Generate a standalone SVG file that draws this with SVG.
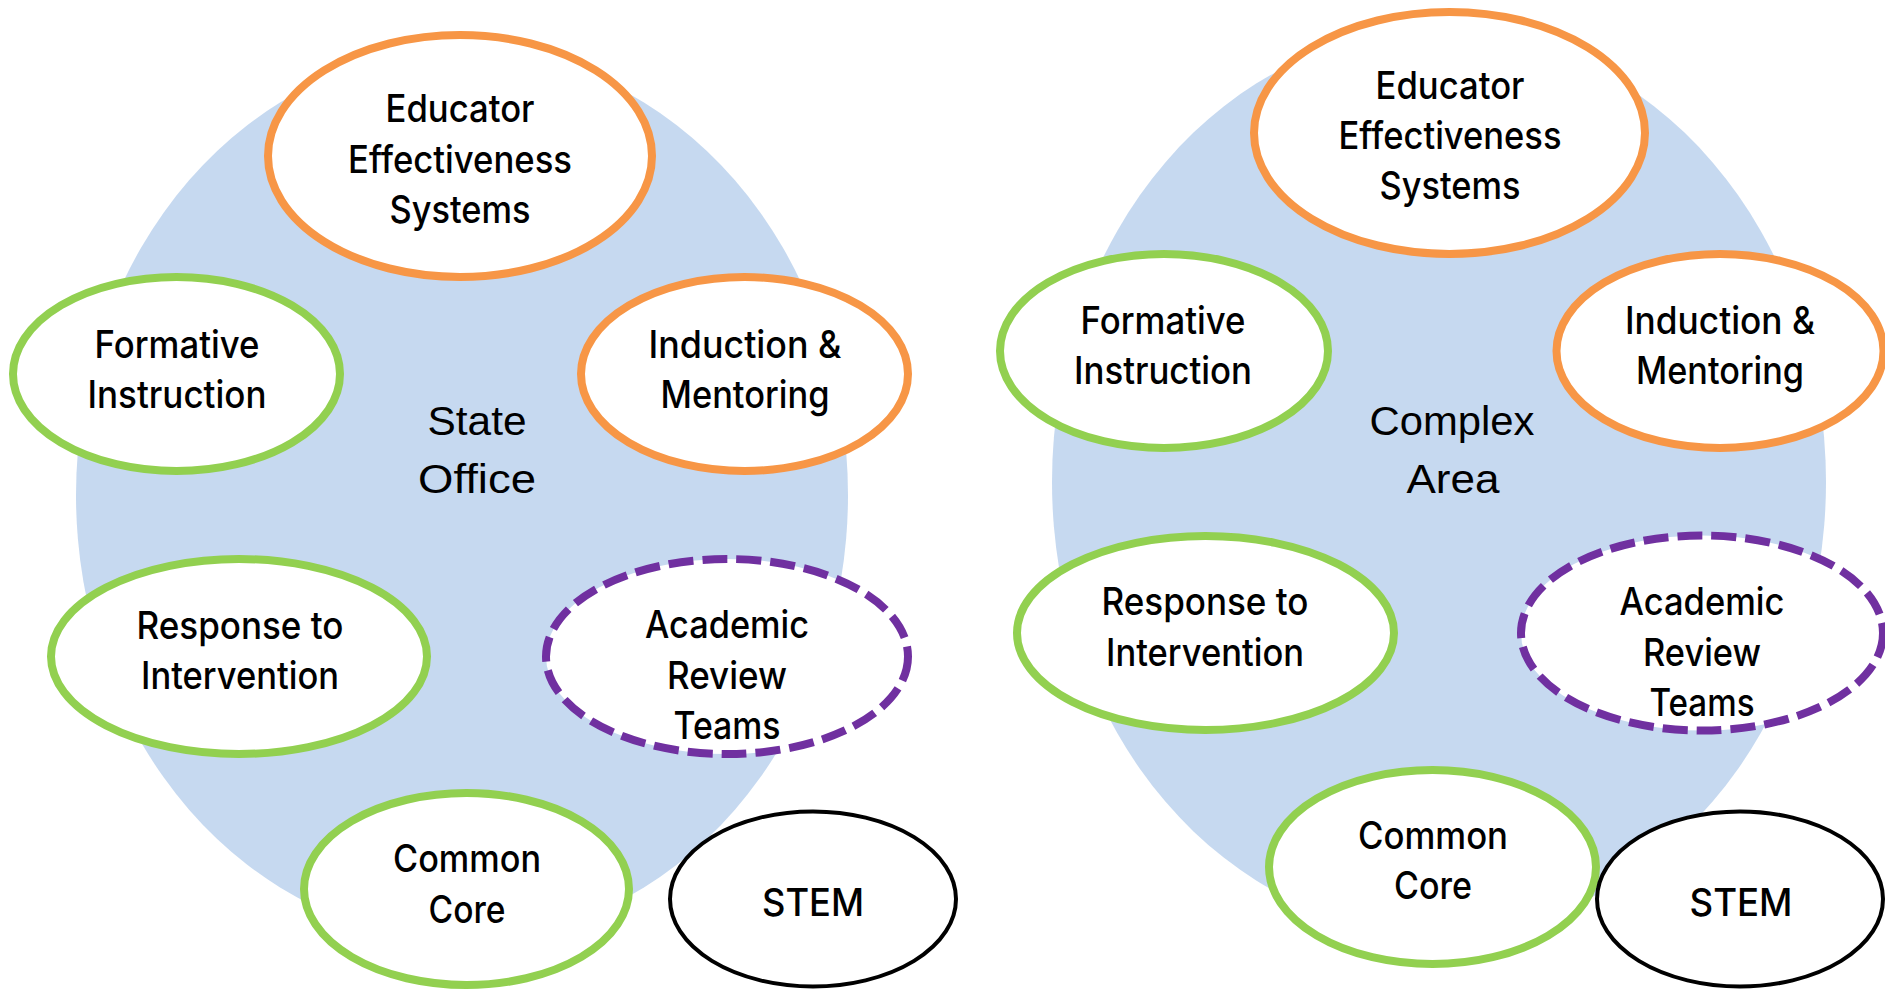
<svg xmlns="http://www.w3.org/2000/svg" width="1885" height="991" viewBox="0 0 1885 991">
<style>
.bg{fill:#C6D9F0;stroke:none}
.n{fill:#FFFFFF;stroke-width:8}
.o{stroke:#F79646}
.g{stroke:#92D050}
.p{stroke:#7030A0;stroke-dasharray:25 9}
.k{stroke:#000000;stroke-width:4}
text{fill:#000000;text-anchor:middle}
.t{font-family:Inter,"Liberation Sans",Arial,sans-serif;font-size:38px;font-weight:500}
.c{font-family:"Liberation Sans",Arial,sans-serif;font-size:41px}
</style>
<g id="backgrounds">
<ellipse class="bg" cx="462" cy="495" rx="386" ry="445"/>
<ellipse class="bg" cx="1439" cy="482" rx="387" ry="452"/>
</g>
<g id="state-office-label">
<text class="c" x="477" y="435" textLength="99" lengthAdjust="spacingAndGlyphs">State</text>
<text class="c" x="477" y="493" textLength="118" lengthAdjust="spacingAndGlyphs">Office</text>
</g>
<g id="complex-area-label">
<text class="c" x="1452" y="435" textLength="165" lengthAdjust="spacingAndGlyphs">Complex</text>
<text class="c" x="1453" y="493" textLength="93" lengthAdjust="spacingAndGlyphs">Area</text>
</g>
<g id="L-ees">
<ellipse class="n o" cx="460" cy="156" rx="192" ry="121"/>
<text class="t" x="460" y="122" textLength="149" lengthAdjust="spacingAndGlyphs">Educator</text>
<text class="t" x="460" y="173" textLength="224" lengthAdjust="spacingAndGlyphs">Effectiveness</text>
<text class="t" x="460" y="223" textLength="141" lengthAdjust="spacingAndGlyphs">Systems</text>
</g>
<g id="L-formative">
<ellipse class="n g" cx="176.5" cy="374" rx="163.5" ry="97"/>
<text class="t" x="177" y="358" textLength="165" lengthAdjust="spacingAndGlyphs">Formative</text>
<text class="t" x="177" y="408" textLength="179" lengthAdjust="spacingAndGlyphs">Instruction</text>
</g>
<g id="L-induction">
<ellipse class="n o" cx="744.5" cy="374" rx="163.5" ry="97"/>
<text class="t" x="745" y="358" textLength="193" lengthAdjust="spacingAndGlyphs">Induction &amp;</text>
<text class="t" x="745" y="408" textLength="169" lengthAdjust="spacingAndGlyphs">Mentoring</text>
</g>
<g id="L-rti">
<ellipse class="n g" cx="239" cy="656.5" rx="188" ry="97.5"/>
<text class="t" x="240" y="639" textLength="207" lengthAdjust="spacingAndGlyphs">Response to</text>
<text class="t" x="240" y="689" textLength="198" lengthAdjust="spacingAndGlyphs">Intervention</text>
</g>
<g id="L-art">
<ellipse class="n p" cx="727" cy="656.5" rx="181" ry="97.5"/>
<text class="t" x="727" y="638" textLength="164" lengthAdjust="spacingAndGlyphs">Academic</text>
<text class="t" x="727" y="689" textLength="120" lengthAdjust="spacingAndGlyphs">Review</text>
<text class="t" x="727" y="739" textLength="107" lengthAdjust="spacingAndGlyphs">Teams</text>
</g>
<g id="L-common-core">
<ellipse class="n g" cx="466.5" cy="889" rx="162.5" ry="96"/>
<text class="t" x="467" y="872" textLength="148" lengthAdjust="spacingAndGlyphs">Common</text>
<text class="t" x="467" y="923" textLength="77" lengthAdjust="spacingAndGlyphs">Core</text>
</g>
<g id="L-stem">
<ellipse class="n k" cx="813" cy="899" rx="143" ry="87.5"/>
<text class="t" x="813" y="916" textLength="102" lengthAdjust="spacingAndGlyphs">STEM</text>
</g>
<g id="R-ees">
<ellipse class="n o" cx="1449.5" cy="133" rx="195.5" ry="121"/>
<text class="t" x="1450" y="99" textLength="149" lengthAdjust="spacingAndGlyphs">Educator</text>
<text class="t" x="1450" y="149" textLength="223" lengthAdjust="spacingAndGlyphs">Effectiveness</text>
<text class="t" x="1450" y="199" textLength="141" lengthAdjust="spacingAndGlyphs">Systems</text>
</g>
<g id="R-formative">
<ellipse class="n g" cx="1164" cy="351" rx="164" ry="97"/>
<text class="t" x="1163" y="334" textLength="165" lengthAdjust="spacingAndGlyphs">Formative</text>
<text class="t" x="1163" y="384" textLength="178" lengthAdjust="spacingAndGlyphs">Instruction</text>
</g>
<g id="R-induction">
<ellipse class="n o" cx="1720" cy="351" rx="163.5" ry="97"/>
<text class="t" x="1720" y="334" textLength="190" lengthAdjust="spacingAndGlyphs">Induction &amp;</text>
<text class="t" x="1720" y="384" textLength="168" lengthAdjust="spacingAndGlyphs">Mentoring</text>
</g>
<g id="R-rti">
<ellipse class="n g" cx="1205.5" cy="633" rx="188.5" ry="97"/>
<text class="t" x="1205" y="615" textLength="207" lengthAdjust="spacingAndGlyphs">Response to</text>
<text class="t" x="1205" y="666" textLength="198" lengthAdjust="spacingAndGlyphs">Intervention</text>
</g>
<g id="R-art">
<ellipse class="n p" cx="1702" cy="633" rx="181" ry="97.5"/>
<text class="t" x="1702" y="615" textLength="165" lengthAdjust="spacingAndGlyphs">Academic</text>
<text class="t" x="1702" y="666" textLength="118" lengthAdjust="spacingAndGlyphs">Review</text>
<text class="t" x="1702" y="716" textLength="105" lengthAdjust="spacingAndGlyphs">Teams</text>
</g>
<g id="R-common-core">
<ellipse class="n g" cx="1432.5" cy="867" rx="163.5" ry="97"/>
<text class="t" x="1433" y="849" textLength="150" lengthAdjust="spacingAndGlyphs">Common</text>
<text class="t" x="1433" y="899" textLength="78" lengthAdjust="spacingAndGlyphs">Core</text>
</g>
<g id="R-stem">
<ellipse class="n k" cx="1740" cy="899" rx="143" ry="87.5"/>
<text class="t" x="1741" y="916" textLength="103" lengthAdjust="spacingAndGlyphs">STEM</text>
</g>
</svg>
